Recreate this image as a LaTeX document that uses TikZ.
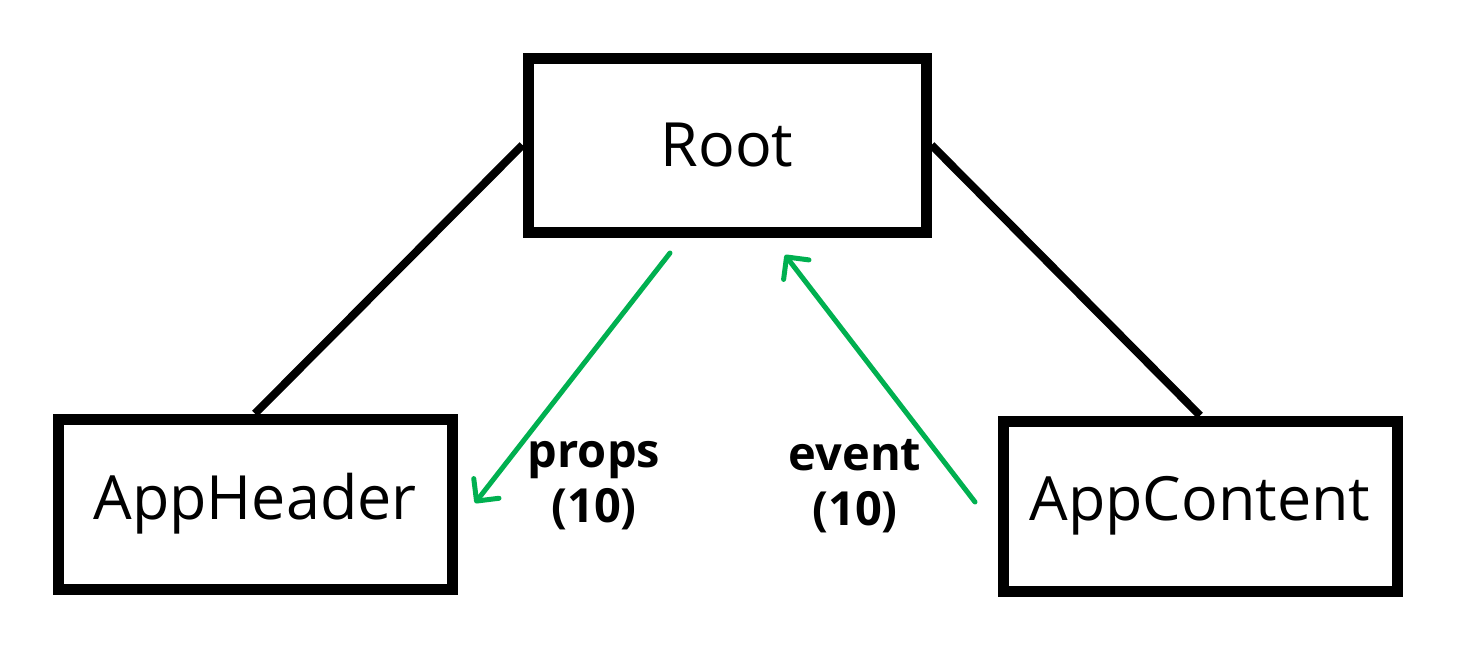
\documentclass[tikz,border=0pt]{standalone}
\usepackage{fontspec}
\setmainfont{Open Sans}
\usetikzlibrary{arrows.meta}
\begin{document}
\begin{tikzpicture}[x=1pt,y=-1pt,
  box/.style={draw=black,line width=11pt,minimum width=#1,inner sep=0pt,font=\fontsize{61}{64}\selectfont},
  link/.style={draw=black,line width=8pt},
  flow/.style={draw={rgb,255:red,0;green,176;blue,80},line width=5pt,line cap=round,
    -{Straight Barb[length=16pt,width=32pt,line cap=round,line join=round]}},
  lbl/.style={font=\fontsize{47}{55}\selectfont\bfseries,align=center}]
\useasboundingbox (0,0) rectangle (1463,657);
\node[box=398pt,minimum height=174pt] (root) at (727,145) {Root};
\node[box=394pt,minimum height=170pt] (hdr) at (255,504) {AppHeader};
\node[box=394pt,minimum height=170pt] (cnt) at (1200,506) {AppContent};
\draw[link] (root.west |- 0,145) -- (hdr.north);
\draw[link] (root.east |- 0,145) -- (cnt.north);
\coordinate (a1) at (670,253);
\coordinate (a2) at (475,503);
\coordinate (b1) at (975,502);
\coordinate (b2) at (785,255);
\draw[flow] (a1) -- (a2);
\draw[flow] (b1) -- (b2);
\node[lbl] (p) at (594,486) {props\\(10)};
\node[lbl] (e) at (855,486) {event\\(10)};
\end{tikzpicture}
\end{document}
